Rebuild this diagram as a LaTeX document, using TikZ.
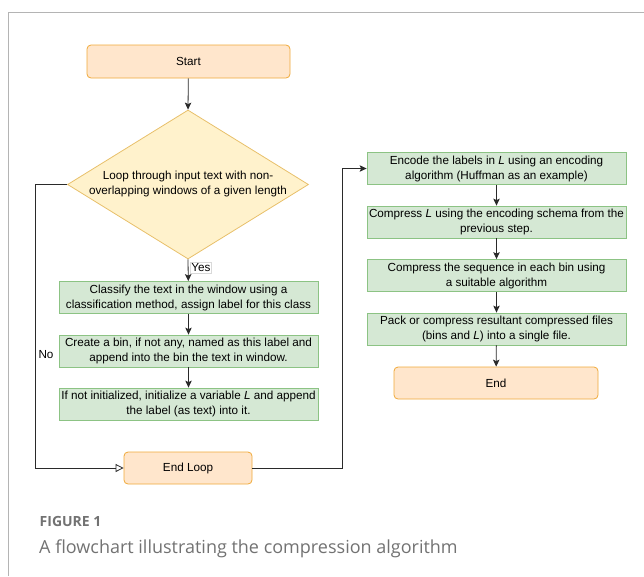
\documentclass[tikz,border=0pt]{standalone}
\usepackage{fontspec}
\usetikzlibrary{arrows.meta,shapes.geometric}
\newfontfamily\diagfont{Liberation Sans}
\newfontfamily\capfont{Open Sans}
\definecolor{termfill}{HTML}{FFE6CC}
\definecolor{termstroke}{HTML}{F0A93A}
\definecolor{procfill}{HTML}{D5E8D4}
\definecolor{procstroke}{HTML}{8CC384}
\definecolor{diafill}{HTML}{FFF2CC}
\definecolor{diastroke}{HTML}{E8C06A}
\definecolor{capgray}{HTML}{727272}
\definecolor{framegray}{HTML}{B4B4B4}
\definecolor{linec}{HTML}{2A2A2A}
\tikzset{
  basetext/.style={font=\diagfont\fontsize{11.7}{15}\selectfont, align=center, inner sep=0pt, text=black},
  term/.style={basetext, draw=termstroke, fill=termfill, rounded corners=4pt, line width=0.8pt, minimum height=32pt},
  proc/.style={basetext, draw=procstroke, fill=procfill, line width=0.8pt, minimum width=259pt, minimum height=32pt},
  dia/.style={shape=diamond, draw=diastroke, fill=diafill, line width=0.8pt, minimum width=241pt, minimum height=149pt, inner sep=0pt},
  arr/.style={draw=linec, line width=0.8pt, -{Stealth[length=7pt,width=6.5pt,inset=1.5pt]}},
  openarr/.style={draw=linec, line width=0.8pt, -{Triangle[open,length=8pt,width=8pt]}},
  yeslab/.style={basetext, fill=white, draw=black!15, inner sep=1pt, line width=0.4pt},
  nolab/.style={basetext, inner sep=3pt},
}
\begin{document}
\begin{tikzpicture}[x=1pt,y=-1pt]
\useasboundingbox (0,0) rectangle (644,576);
\draw[framegray, line width=1.2pt] (8.5,576) -- (8.5,12.5) -- (644,12.5);

\node[term, minimum width=203pt, minimum height=33pt] (start) at (188.5,61.5) {Start};
\node[dia] (loop) at (188,184.5) {};
\node[basetext] (looptext) at (188,183.5) {Loop through input text with non-\\overlapping windows of a given length};
\node[proc] (b1) at (188.5,297.5) {Classify the text in the window using a\\classification method, assign label for this class};
\node[proc] (b2) at (188.5,351) {Create a bin, if not any, named as this label and\\append into the bin the text in window.};
\node[proc] (b3) at (188.5,404) {If not initialized, initialize a variable \textit{L} and append\\the label (as text) into it.};
\node[term, minimum width=128pt] (endloop) at (188,468) {End Loop};

\node[proc] (enc) at (496.5,168.5) {Encode the labels in \textit{L} using an encoding\\algorithm (Huffman as an example)};
\node[proc] (cmpl) at (496.5,222) {Compress \textit{L} using the encoding schema from the\\previous step.};
\node[proc] (cmps) at (496.5,275.5) {Compress the sequence in each bin using\\a suitable algorithm};
\node[proc] (pack) at (496.5,329) {Pack or compress resultant compressed files\\(bins and \textit{L}) into a single file.};
\node[term, minimum width=204pt] (end) at (496,383) {End};

\draw[arr] (start) -- (loop.north);
\draw[arr] (loop.south) -- node[yeslab, pos=0.38, anchor=west, xshift=2pt] {Yes} (b1);
\draw[arr] (b1) -- (b2);
\draw[arr] (b2) -- (b3);
\draw[openarr] (loop.west) -- ++(-32,0) |- node[nolab, pos=0.3, anchor=west] {No} (endloop.west);
\draw[arr] (endloop.east) -- ++(90,0) |- (enc.west);
\draw[arr] (enc) -- (cmpl);
\draw[arr] (cmpl) -- (cmps);
\draw[arr] (cmps) -- (pack);
\draw[arr] (pack) -- (end);

\node[anchor=base west, inner sep=0pt, text=capgray, font=\capfont\bfseries\fontsize{14}{16}\selectfont] (figlab) at (39.5,526) {FIGURE 1};
\node[anchor=base west, inner sep=0pt, text=capgray, font=\capfont\fontsize{18}{20}\selectfont] (caption) at (39,553) {A flowchart illustrating the compression algorithm};
\end{tikzpicture}
\end{document}
